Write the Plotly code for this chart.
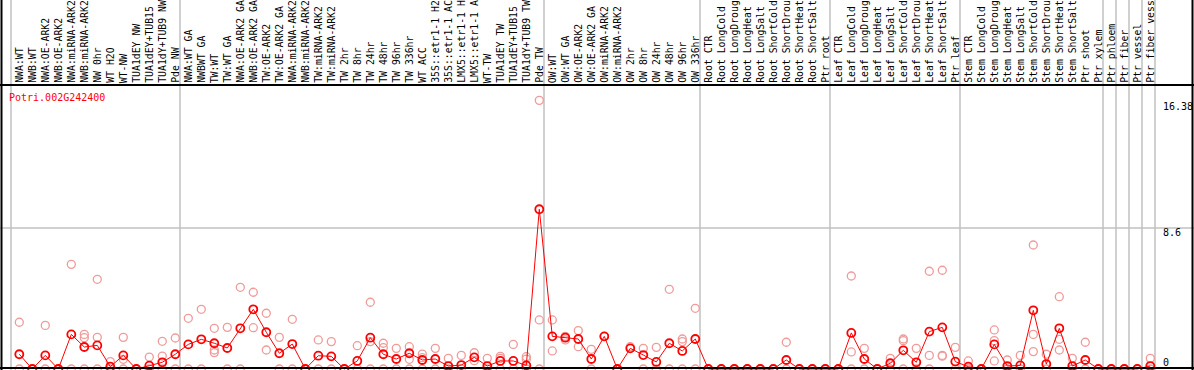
import plotly.graph_objects as go

# ---------------- data ----------------
gene = "Potri.002G242400"

group_sizes = [13, 28, 12, 10, 10, 11, 1, 1, 1, 1]

samples = [
    "NWA:WT", "NWB:WT", "NWA:OE-ARK2", "NWB:OE-ARK2", "NWA:miRNA-ARK2", "NWB:miRNA-ARK2",
    "NW 0hr", "WT H2O", "WT-NW", "TUA1dEY NW", "TUA1dEY+TUB15 NW", "TUA1dY+TUB9 NW", "Pde NW",
    "NWA:WT GA", "NWBWT GA", "TW:WT", "TW:WT GA", "NWA:OE-ARK2 GA", "NWB:OE-ARK2 GA",
    "TW:OE-ARK2", "TW:OE-ARK2 GA", "NWA:miRNA-ARK2 GA", "NWB:miRNA-ARK2 GA", "TW:miRNA-ARK2",
    "TW:miRNA-ARK2 GA", "TW 2hr", "TW 8hr", "TW 24hr", "TW 48hr", "TW 96hr", "TW 336hr",
    "WT ACC", "35S::etr1-1 H2O", "35S::etr1-1 ACC", "LMX5::etr1-1 H2O", "LMX5::etr1-1 ACC",
    "WT-TW", "TUA1dEY TW", "TUA1dEY+TUB15 TW", "TUA1dY+TUB9 TW", "Pde TW",
    "OW:WT", "OW:WT GA", "OW:OE-ARK2", "OW:OE-ARK2 GA", "OW:miRNA-ARK2", "OW:miRNA-ARK2 GA",
    "OW 2hr", "OW 8hr", "OW 24hr", "OW 48hr", "OW 96hr", "OW 336hr",
    "Root CTR", "Root LongCold", "Root LongDrought", "Root LongHeat", "Root LongSalt",
    "Root ShortCold", "Root ShortDrought", "Root ShortHeat", "Root ShortSalt", "Ptr root",
    "Leaf CTR", "Leaf LongCold", "Leaf LongDrought", "Leaf LongHeat", "Leaf LongSalt",
    "Leaf ShortCold", "Leaf ShortDrought", "Leaf ShortHeat", "Leaf ShortSalt", "Ptr leaf",
    "Stem CTR", "Stem LongCold", "Stem LongDrought", "Stem LongHeat", "Stem LongSalt",
    "Stem ShortCold", "Stem ShortDrought", "Stem ShortHeat", "Stem ShortSalt", "Ptr shoot",
    "Ptr xylem", "Ptr phloem", "Ptr fiber", "Ptr vessel", "Ptr fiber vessel",
]

mean_values = [
    0.90, 0, 0.83, 0, 2.11, 1.34, 1.44, 0.14, 0.83, 0, 0.20, 0.41, 0.90,
    1.50, 1.81, 1.57, 1.28, 2.48, 3.64, 2.24, 0.96, 1.52, 0, 0.81, 0.77, 0, 0.49,
    1.91, 0.90, 0.61, 0.96, 0.55, 0.61, 0.18, 0.24, 0.71, 0.18, 0.49, 0.49, 0.22, 9.74,
    1.99, 1.91, 1.83, 0.61, 1.99, 0, 1.26, 0.85, 0.43, 1.57, 1.10, 1.83,
    0, 0, 0, 0, 0, 0, 0.55, 0, 0, 0,
    0, 2.20, 0.61, 0, 0.35, 1.14, 0.41, 2.28, 2.54, 0.45,
    0.14, 0, 1.50, 0.18, 0.22, 3.58, 0.30, 2.48, 0.18, 0.55, 0,
    0, 0, 0, 0.18,
]

replicate_values = [
    [2.85, 0], [0], [2.66, 0], [0], [6.38, 0], [2.11, 1.91, 0], [5.47, 1.93, 0],
    [0.45, 0], [1.93, 0.59, 0], [0], [0.73, 0], [1.69, 0.79, 0], [1.89, 0],
    [3.09, 0], [3.64, 0], [2.48, 1.16, 1.00], [2.54, 0], [4.98, 0], [4.68, 2.52],
    [3.40, 1.16], [1.93, 0], [3.03, 0], [0], [1.77, 0], [1.67, 0], [0], [1.42, 0],
    [4.07, 1.67, 0], [1.57, 1.30, 0], [1.26, 0], [1.36, 0.59, 0], [0.91, 0.69, 0],
    [1.26, 0], [0.65, 0], [0.83, 0], [0.99, 0.51], [0.65, 0], [0.77, 0.65, 0],
    [1.50, 0], [0.75, 0.60, 0], [16.38, 2.99, 0],
    [2.99, 1.10], [1.99, 1.77], [2.34, 1.36], [1.20, 0], [1.99], [0], [1.36],
    [1.26, 0], [1.32, 0], [4.86, 0], [1.83, 1.67, 0], [3.70, 0],
    [0], [0], [0], [0], [0], [0], [1.63, 0], [0], [0], [0],
    [0], [5.67, 1.04, 0], [1.26, 0], [0], [0.65, 0], [1.83, 1.73, 0], [1.26, 0],
    [5.96, 0.83, 0], [6.02, 0.83, 0.78], [1.32, 0],
    [0.49, 0], [0], [2.38, 1.73, 0.49], [0.55, 0], [0.83, 0], [7.56, 2.11, 1.06],
    [0.90, 0], [4.41, 1.81, 1.16], [0.65, 0], [1.63, 0], [0],
    [0], [0], [0], [0.65, 0],
]

y_tick_values = [0, 8.6, 16.38]
y_tick_labels = ["0", "8.6", "16.38"]

# ---------------- layout geometry (pixels) ----------------
W, H = 1194, 370
col_w = 13.0
first_center = 19.3
col_left0 = 11.0
y0_px = 369.0
px_per_unit = 16.4
header_px = 85.0
label_max_chars = 14

n = len(samples)
idx = list(range(n))

def xpx(p):
    return p / W

def ypx(p):
    return 1 - p / H

x_range = [(0 - first_center) / col_w, (W - first_center) / col_w]
y_range = [(y0_px - H) / px_per_unit, y0_px / px_per_unit]

rep_x, rep_y = [], []
for i, reps in enumerate(replicate_values):
    for v in reps:
        rep_x.append(i)
        rep_y.append(v)

font_mono = "DejaVu Sans Mono"
red = "#ff0000"
pink = "#f09a9a"
grey = "#c0c0c0"

fig = go.Figure()
fig.add_trace(go.Scatter(
    x=rep_x, y=rep_y, mode="markers",
    marker=dict(symbol="circle-open", size=8, color=pink, line=dict(width=1.3, color=pink)),
    hoverinfo="skip", showlegend=False,
))
fig.add_trace(go.Scatter(
    x=idx, y=mean_values, mode="lines+markers",
    line=dict(color=red, width=1),
    marker=dict(symbol="circle-open", size=8, color=red, line=dict(width=1.8, color=red)),
    showlegend=False,
))

shapes = []
# group boundary lines
bounds = [0]
for g in group_sizes:
    bounds.append(bounds[-1] + g)
for b in bounds:
    xp = col_left0 + col_w * b
    shapes.append(dict(type="line", xref="paper", yref="paper", x0=xpx(xp), x1=xpx(xp),
                       y0=0, y1=1, line=dict(color=grey, width=1.5), layer="below"))
# 8.6 gridline
yp = y0_px - px_per_unit * 8.6
shapes.append(dict(type="line", xref="paper", yref="paper", x0=0, x1=1, y0=ypx(yp), y1=ypx(yp),
                   line=dict(color=grey, width=1.5), layer="below"))
# frame lines
black = "#000000"
shapes.append(dict(type="line", xref="paper", yref="paper", x0=0, x1=1,
                   y0=ypx(header_px), y1=ypx(header_px), line=dict(color=black, width=2)))
shapes.append(dict(type="line", xref="paper", yref="paper", x0=0, x1=1,
                   y0=ypx(368), y1=ypx(368), line=dict(color=black, width=2)))
shapes.append(dict(type="line", xref="paper", yref="paper", x0=xpx(1.5), x1=xpx(1.5),
                   y0=0, y1=1, line=dict(color=black, width=2)))
shapes.append(dict(type="line", xref="paper", yref="paper", x0=xpx(1192.5), x1=xpx(1192.5),
                   y0=0, y1=1, line=dict(color=black, width=2)))

annotations = []
for i, s in enumerate(samples):
    xp = first_center + col_w * i
    annotations.append(dict(text=s[:label_max_chars].rstrip(), xref="paper", yref="paper",
                            x=xpx(xp), y=ypx(84),
                            xanchor="center", yanchor="bottom", textangle=-90,
                            showarrow=False, font=dict(family=font_mono, size=9.8, color="black"),
                            borderpad=0))
annotations.append(dict(text=gene, xref="paper", yref="paper", x=xpx(7), y=ypx(98),
                        xanchor="left", yanchor="middle", showarrow=False,
                        font=dict(family=font_mono, size=10, color=red)))
tick_label_y = [362, 232, 107]
for lab, ty in zip(y_tick_labels, tick_label_y):
    annotations.append(dict(text=lab, xref="paper", yref="paper", x=xpx(1161), y=ypx(ty),
                            xanchor="left", yanchor="middle", showarrow=False,
                            font=dict(family=font_mono, size=10, color="black")))

fig.update_layout(
    width=W, height=H, autosize=False,
    margin=dict(l=0, r=0, t=0, b=0, pad=0),
    paper_bgcolor="white", plot_bgcolor="white",
    xaxis=dict(range=x_range, visible=False, showgrid=False, zeroline=False, fixedrange=True),
    yaxis=dict(range=y_range, visible=False, showgrid=False, zeroline=False, fixedrange=True),
    shapes=shapes, annotations=annotations, showlegend=False,
)

fig.write_html(
    "out.html",
    config={"displayModeBar": False},
    post_script="document.body.style.margin='0';document.body.style.padding='0';"
                "document.documentElement.style.overflow='hidden';",
)
